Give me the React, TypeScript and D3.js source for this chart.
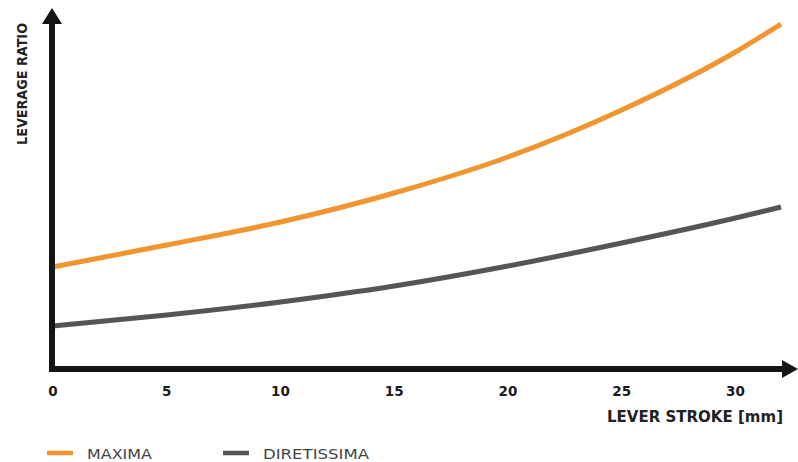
import React from 'react'
import * as d3 from 'd3'

// lever stroke in mm
const stroke = [0, 5, 10, 15, 20, 25, 30, 32]
// leverage ratio (no scale printed on the chart, relative units)
const maxima = [1.03, 1.25, 1.48, 1.77, 2.13, 2.6, 3.18, 3.46]
const diretissima = [0.44, 0.55, 0.68, 0.84, 1.04, 1.27, 1.52, 1.63]
const xTicks = [0, 5, 10, 15, 20, 25, 30]

const series = [
  { name: 'MAXIMA', values: maxima, color: '#f0952f' },
  { name: 'DIRETISSIMA', values: diretissima, color: '#555555' },
]

const width = 798
const height = 462

export default function App() {
  const x = d3.scaleLinear().domain([0, 32]).range([53, 781])
  const y = d3.scaleLinear().domain([0, 3.6]).range([370, 10])

  const line = d3
    .line<number>()
    .x((_d, i) => x(stroke[i]))
    .y((d) => y(d))
    .curve(d3.curveMonotoneX)

  const axisColor = '#151515'
  const x0 = x(0) - 1
  const yAxisY = 369

  return (
    <div style={{ position: 'absolute', left: 0, top: 0 }}>
      <svg width={width} height={height} style={{ display: 'block', background: '#fff' }}>
        {series.map((s) => (
          <path
            key={s.name}
            d={line(s.values) ?? ''}
            fill="none"
            stroke={s.color}
            strokeWidth={5}
          />
        ))}

        {/* axes with arrows */}
        <line x1={x0} y1={yAxisY + 2.5} x2={x0} y2={22} stroke={axisColor} strokeWidth={6} />
        <path d={`M${x0 - 10},24 L${x0},8 L${x0 + 10},24 Z`} fill={axisColor} />
        <line x1={x0 - 3} y1={yAxisY} x2={784} y2={yAxisY} stroke={axisColor} strokeWidth={6} />
        <path d={`M782,${yAxisY - 9} L798,${yAxisY} L782,${yAxisY + 9} Z`} fill={axisColor} />

        {xTicks.map((t) => (
          <text
            key={t}
            x={x(t)}
            y={396}
            textAnchor="middle"
            fontFamily="DejaVu Sans"
            fontWeight={700}
            fontSize={13.5}
            fill="#1a1a1a"
          >
            {t}
          </text>
        ))}

        <text
          x={783}
          y={422}
          textAnchor="end"
          fontFamily="DejaVu Sans"
          fontWeight={700}
          fontSize={15}
          textLength={176}
          lengthAdjust="spacingAndGlyphs"
          fill="#222"
        >
          LEVER STROKE [mm]
        </text>

        <text
          transform="translate(27,84) rotate(-90)"
          textAnchor="middle"
          fontFamily="DejaVu Sans"
          fontWeight={700}
          fontSize={14}
          textLength={122}
          lengthAdjust="spacingAndGlyphs"
          fill="#222"
        >
          LEVERAGE RATIO
        </text>

        {/* legend */}
        {series.map((s, i) => {
          const lx = i === 0 ? 47 : 223
          const tw = i === 0 ? 65 : 106
          return (
            <g key={s.name}>
              <line x1={lx} x2={lx + 26} y1={453} y2={453} stroke={s.color} strokeWidth={4.5} />
              <text
                x={lx + 40}
                y={458.5}
                fontFamily="DejaVu Sans"
                fontSize={13.5}
                textLength={tw}
                lengthAdjust="spacingAndGlyphs"
                fill="#444"
              >
                {s.name}
              </text>
            </g>
          )
        })}
      </svg>
    </div>
  )
}
